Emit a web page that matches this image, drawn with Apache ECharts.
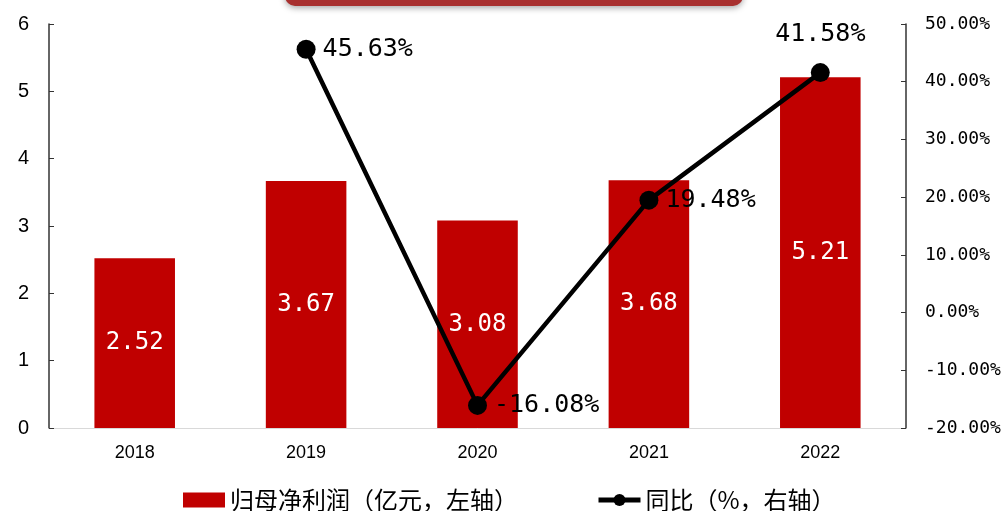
<!DOCTYPE html>
<html><head><meta charset="utf-8">
<script src="https://cdn.jsdelivr.net/npm/echarts@6/dist/echarts.min.js"></script>
<style>html,body{margin:0;padding:0;background:#fff}#c{width:1008px;height:511px}</style>
</head><body><div id="c"></div>
<script>
const years = ['2018','2019','2020','2021','2022'];
const profit = [2.52, 3.67, 3.08, 3.68, 5.21];
const yoy = [null, 45.63, -16.08, 19.48, 41.58];
const yoyLabelPos = [null, 'right', 'right', 'right', 'top'];
const leftTicks = {min: 0, max: 6, interval: 1};
const rightTicks = {min: -20, max: 50, interval: 10};

const chart = echarts.init(document.getElementById('c'));
const font = '"Noto Sans CJK SC", sans-serif';
const mono = '"DejaVu Sans Mono", monospace';
chart.setOption({
  animation: false,
  grid: {left: 49, right: 102, top: 24, bottom: 83},
  graphic: [{
    type: 'rect', left: 285, top: -30,
    shape: {width: 458, height: 36, r: 10},
    style: {fill: '#a8302f', shadowBlur: 6, shadowColor: 'rgba(0,0,0,0.35)', shadowOffsetY: 2}
  }],
  legend: {
    top: 483, left: 178, itemGap: 78, itemWidth: 42, itemHeight: 15,
    textStyle: {fontFamily: font, fontSize: 24, color: '#000'},
    data: [
      {name: '归母净利润（亿元，左轴）', icon: 'rect'},
      {name: '同比（%，右轴）', lineStyle: {width: 5, color: '#000'}}
    ]
  },
  xAxis: {
    type: 'category', data: years,
    axisLine: {lineStyle: {color: '#d9d9d9', width: 1}},
    axisTick: {show: false},
    axisLabel: {color: '#000', fontSize: 18, fontFamily: 'Liberation Sans, Arial', margin: 16}
  },
  yAxis: [{
    type: 'value', min: leftTicks.min, max: leftTicks.max, interval: leftTicks.interval,
    axisLine: {show: true, lineStyle: {color: '#333', width: 1.5}},
    axisTick: {show: true, inside: true, length: 5, lineStyle: {color: '#333'}},
    splitLine: {show: false},
    axisLabel: {color: '#000', fontSize: 20, fontFamily: 'Liberation Sans, Arial', margin: 20}
  }, {
    type: 'value', min: rightTicks.min, max: rightTicks.max, interval: rightTicks.interval,
    position: 'right',
    axisLine: {show: true, lineStyle: {color: '#333', width: 1.5}},
    axisTick: {show: true, inside: true, length: 5, lineStyle: {color: '#333'}},
    splitLine: {show: false},
    axisLabel: {color: '#000', fontSize: 18, fontFamily: mono, margin: 19,
      formatter: v => v.toFixed(2) + '%'}
  }],
  series: [{
    name: '归母净利润（亿元，左轴）', type: 'bar', data: profit, barWidth: '47%',
    itemStyle: {color: '#c00000'},
    label: {show: true, position: 'inside', color: '#fff', fontSize: 24, fontFamily: mono,
      formatter: p => p.value.toFixed(2)}
  }, {
    name: '同比（%，右轴）', type: 'line', yAxisIndex: 1,
    data: yoy.map((v, i) => v === null ? null :
      {value: v, label: {position: yoyLabelPos[i], distance: yoyLabelPos[i] === 'top' ? 16 : 7}}),
    lineStyle: {color: '#000', width: 4.5},
    itemStyle: {color: '#000'},
    symbol: 'circle', symbolSize: 19,
    label: {show: true, color: '#000', fontSize: 25, fontFamily: mono,
      formatter: p => p.value.toFixed(2) + '%'}
  }]
});
</script></body></html>
